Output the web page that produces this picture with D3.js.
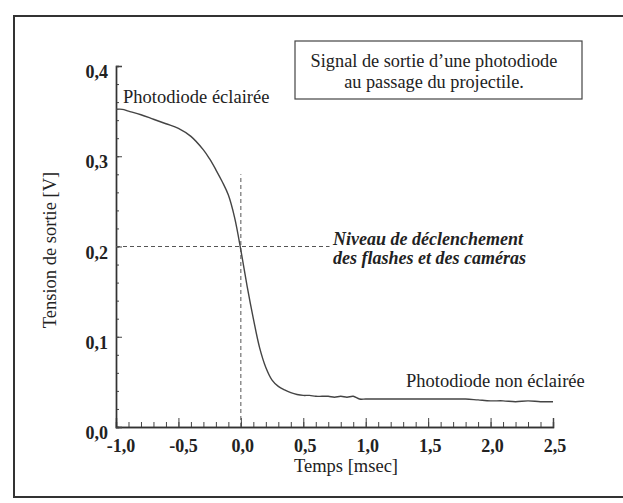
<!DOCTYPE html>
<html><head><meta charset="utf-8">
<script src="https://cdn.jsdelivr.net/npm/d3@7"></script>
<style>
body{margin:0;background:#fff;}
svg{display:block;}
text{font-family:"Liberation Serif","Times New Roman",serif;fill:#222;}
</style></head>
<body>
<script>
// Data
const timeMs = [-1.00,-0.95,-0.90,-0.80,-0.70,-0.60,-0.50,-0.40,-0.30,-0.25,-0.20,-0.15,-0.10,-0.05,0.00,0.05,0.10,0.15,0.20,0.25,0.30,0.35,0.40,0.45,0.50,0.55,0.60,0.65,0.70,0.75,0.80,0.85,0.90,0.95,1.00,1.10,1.20,1.30,1.40,1.50,1.60,1.70,1.80,1.90,2.00,2.10,2.20,2.30,2.40,2.50];
const voltage = [0.352,0.352,0.350,0.346,0.341,0.336,0.331,0.322,0.307,0.297,0.285,0.272,0.257,0.232,0.196,0.156,0.120,0.088,0.066,0.052,0.045,0.041,0.038,0.036,0.035,0.035,0.034,0.034,0.034,0.033,0.034,0.033,0.034,0.031,0.031,0.031,0.031,0.031,0.031,0.031,0.031,0.031,0.031,0.030,0.029,0.029,0.028,0.029,0.028,0.028];
const xTickLabels = ["-1,0","-0,5","0,0","0,5","1,0","1,5","2,0","2,5"];
const xTickValues = [-1,-0.5,0,0.5,1,1.5,2,2.5];
const yTickLabels = ["0,0","0,1","0,2","0,3","0,4"];
const yTickValues = [0,0.1,0.2,0.3,0.4];
const triggerLevel = 0.2;
const triggerTime = 0;
const triggerLineTop = 0.28;
const triggerLineEnd = 0.71;
const titleLines = ["Signal de sortie d\u2019une photodiode","au passage du projectile."];
const noteLines = ["Niveau de déclenchement","des flashes et des caméras"];

const W = 623, H = 503;
const svg = d3.select("body").append("svg").attr("width", W).attr("height", H);
svg.append("rect").attr("width", W).attr("height", H).attr("fill", "#fff");

// outer frame
svg.append("rect").attr("x", 14).attr("y", 16).attr("width", 640).attr("height", 481)
  .attr("fill", "none").attr("stroke", "#333").attr("stroke-width", 2);

const x = d3.scaleLinear().domain([-1, 2.5]).range([116, 553]);
const y = d3.scaleLinear().domain([0, 0.4]).range([427, 66]);

// axes
const xMinor = d3.range(-10, 26).map(d => d / 10);
svg.append("g").attr("transform", `translate(0,${y(0)})`)
  .call(d3.axisBottom(x).tickValues(xMinor).tickSize(-5).tickFormat(""));
svg.append("g").attr("transform", `translate(0,${y(0)})`)
  .call(d3.axisBottom(x).tickValues(xTickValues).tickSize(-9).tickFormat(""));
const yMinor = d3.range(0, 21).map(d => d / 50);
svg.append("g").attr("transform", `translate(${x(-1)},0)`)
  .call(d3.axisLeft(y).tickValues(yMinor).tickSize(-3).tickFormat(""));
svg.append("g").attr("transform", `translate(${x(-1)},0)`)
  .call(d3.axisLeft(y).tickValues(yTickValues).tickSize(-6).tickFormat(""));
svg.selectAll(".domain").attr("stroke", "#333").attr("stroke-width", 1.4);
svg.selectAll(".tick line").attr("stroke", "#444").attr("stroke-width", 1);

// tick labels
svg.append("g").selectAll("text").data(xTickValues).join("text")
  .attr("x", (d) => x(d) + (d < 0 ? 5 : 2))
  .attr("y", 452)
  .attr("text-anchor", "middle")
  .attr("font-size", 18).attr("font-weight", "bold")
  .text((d, i) => xTickLabels[i]);
svg.append("g").selectAll("text").data(yTickValues).join("text")
  .attr("x", 108)
  .attr("y", d => y(d) + 12)
  .attr("text-anchor", "end")
  .attr("font-size", 18).attr("font-weight", "bold")
  .text((d, i) => yTickLabels[i]);

// axis titles
svg.append("text").attr("x", 346).attr("y", 472).attr("text-anchor", "middle")
  .attr("font-size", 18.5).text("Temps [msec]");
svg.append("text").attr("transform", "translate(56,250) rotate(-90)").attr("text-anchor", "middle")
  .attr("font-size", 18.5).text("Tension de sortie [V]");

// trigger dashed lines
svg.append("line").attr("x1", x(-1)).attr("x2", x(triggerLineEnd))
  .attr("y1", y(triggerLevel)).attr("y2", y(triggerLevel))
  .attr("stroke", "#555").attr("stroke-width", 1).attr("stroke-dasharray", "4,3");
svg.append("line").attr("x1", x(triggerTime)).attr("x2", x(triggerTime))
  .attr("y1", y(0)).attr("y2", y(triggerLineTop))
  .attr("stroke", "#555").attr("stroke-width", 1).attr("stroke-dasharray", "4,3");

// curve
const line = d3.line().x((d, i) => x(timeMs[i])).y(d => y(d)).curve(d3.curveCatmullRom);
svg.append("path").datum(voltage).attr("d", line)
  .attr("fill", "none").attr("stroke", "#444").attr("stroke-width", 1.4);

// labels
svg.append("text").attr("x", 123).attr("y", 103).attr("font-size", 18.5).text("Photodiode éclairée");
svg.append("text").attr("x", 406).attr("y", 387).attr("font-size", 18.5).text("Photodiode non éclairée");
svg.append("g").selectAll("text").data(noteLines).join("text")
  .attr("x", 333).attr("y", (d, i) => 245 + i * 19)
  .attr("font-size", 18).attr("font-style", "italic").attr("font-weight", "bold")
  .text(d => d);

// title box
svg.append("rect").attr("x", 295).attr("y", 41).attr("width", 287).attr("height", 58)
  .attr("fill", "#fff").attr("stroke", "#444").attr("stroke-width", 1.2);
svg.append("g").selectAll("text").data(titleLines).join("text")
  .attr("x", 434).attr("y", (d, i) => 67 + i * 21)
  .attr("text-anchor", "middle").attr("font-size", 18.3)
  .text(d => d);
</script>
</body></html>
